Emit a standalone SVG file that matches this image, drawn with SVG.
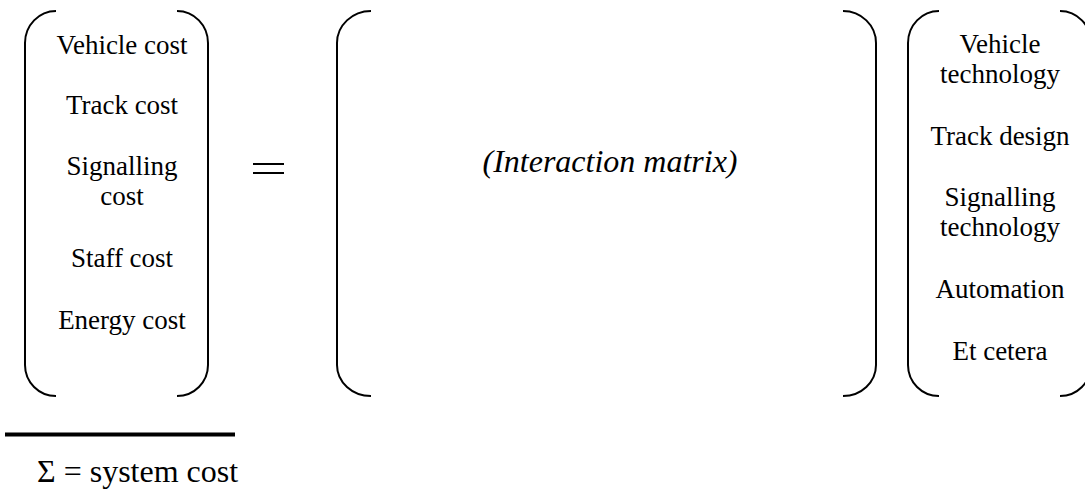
<svg xmlns="http://www.w3.org/2000/svg" width="1085" height="489" viewBox="0 0 1085 489">
<style>
.br{fill:none;stroke:#000;stroke-width:2}
.t{font-family:Liberation Serif,Times New Roman,serif;font-size:27px;fill:#000;text-anchor:middle}
.big{font-size:32px}
.it{font-style:italic}
</style>
<rect width="1085" height="489" fill="#fff"/>
<g id="costs">
<path class="br" d="M56,11 A31,32 0 0 0 25,43 V365 A31,31 0 0 0 56,396"/>
<path class="br" d="M177,11 A31,32 0 0 1 208,43 V365 A31,31 0 0 1 177,396"/>
<text class="t" x="122" y="54">Vehicle cost</text>
<text class="t" x="122" y="114">Track cost</text>
<text class="t" x="122" y="175">Signalling</text>
<text class="t" x="122" y="205">cost</text>
<text class="t" x="122" y="267">Staff cost</text>
<text class="t" x="122" y="329">Energy cost</text>
</g>
<g id="equals">
<line x1="253" y1="164" x2="284" y2="164" stroke="#000" stroke-width="2"/>
<line x1="253" y1="173" x2="284" y2="173" stroke="#000" stroke-width="2"/>
</g>
<g id="matrix">
<path class="br" d="M371,11 A34,32 0 0 0 337,43 V365 A34,31 0 0 0 371,396"/>
<path class="br" d="M843,11 A33,32 0 0 1 876,43 V365 A33,31 0 0 1 843,396"/>
<text class="t big it" x="610" y="172">(Interaction matrix)</text>
</g>
<g id="factors">
<path class="br" d="M939,11 A31,32 0 0 0 908,43 V365 A31,31 0 0 0 939,396"/>
<path class="br" d="M1060,11 A31,32 0 0 1 1091,43 V365 A31,31 0 0 1 1060,396"/>
<text class="t" x="1000" y="53">Vehicle</text>
<text class="t" x="1000" y="83">technology</text>
<text class="t" x="1000" y="145">Track design</text>
<text class="t" x="1000" y="206">Signalling</text>
<text class="t" x="1000" y="236">technology</text>
<text class="t" x="1000" y="298">Automation</text>
<text class="t" x="1000" y="360">Et cetera</text>
</g>
<g id="sum">
<line x1="5" y1="434.5" x2="235" y2="434.5" stroke="#000" stroke-width="4"/>
<text class="t big" x="37" y="482" style="text-anchor:start">Σ = system cost</text>
</g>
</svg>
